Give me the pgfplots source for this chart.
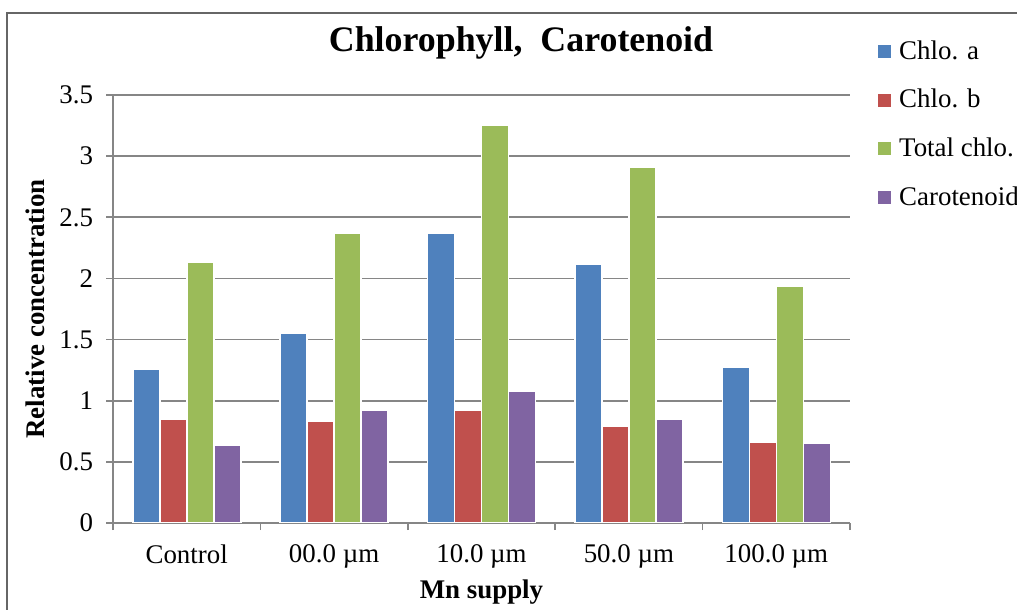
\documentclass[border=0pt]{standalone}
\usepackage{fontspec}
\setmainfont{Liberation Serif}
\usepackage{pgfplots}
\pgfplotsset{compat=1.18}
\definecolor{cA}{HTML}{4F81BD}
\definecolor{cB}{HTML}{C0504D}
\definecolor{cC}{HTML}{9BBB59}
\definecolor{cD}{HTML}{8064A2}
\definecolor{gridc}{RGB}{134,134,134}
\begin{document}
\begin{tikzpicture}
\useasboundingbox (0,0) rectangle (508.5bp,305bp);
\draw[gray!80!black, line width=0.8bp] (3.5bp,0) -- (3.5bp,298.5bp) -- (508.5bp,298.5bp);
\node[font=\bfseries\fontsize{18}{21}\selectfont] at (260.5bp,283.5bp) {Chlorophyll,\ \ Carotenoid};
\begin{axis}[
  at={(56.5bp,43.5bp)}, anchor=south west,
  width=368.5bp, height=214bp, scale only axis,
  xmin=-0.5, xmax=4.5, ymin=0, ymax=3.5,
  ybar=0pt, bar width=13.5bp,
  axis x line*=bottom, axis y line*=left,
  axis line style={draw=gridc, line width=0.8bp, -},
  ytick={0,0.5,...,3.5},
  ymajorgrids, grid style={draw=gridc, line width=0.8bp},
  xtick={-0.5,0.5,...,4.5},
  x tick label as interval,
  xticklabels={Control, 00.0 µm, 10.0 µm, 50.0 µm, 100.0 µm},
  tick align=outside, major tick length=3.5bp,
  tick style={draw=gridc, line width=0.8bp},
  tick label style={font=\fontsize{13.5}{16}\selectfont},
  /pgf/number format/assume math mode=true,
  xticklabel style={yshift=-4bp},
  yticklabel style={xshift=-3bp},
  xlabel={Mn supply},
  ylabel={Relative concentration},
  label style={font=\bfseries\fontsize{13.5}{16}\selectfont},
  x label style={at={(axis description cs:0.5,-0.161)}, anchor=center},
  y label style={at={(axis description cs:-0.106,0.5)}, anchor=center, rotate=0},
  legend style={at={(1.038,1.135)}, anchor=north west, draw=none, fill=none,
    font=\fontsize{13.5}{16}\selectfont, row sep=10.5bp, inner sep=0pt,
    nodes={inner sep=1.5bp}},
  legend cell align=left,
  legend image code/.code={\fill[#1, draw=none] (0bp,-3.25bp) rectangle (6.5bp,3.25bp); \path (8.5bp,0);},
]
\addplot[fill=cA, draw=white, line width=0.8bp] coordinates {(0,1.26) (1,1.55) (2,2.37) (3,2.12) (4,1.27)};
\addplot[fill=cB, draw=white, line width=0.8bp] coordinates {(0,0.85) (1,0.83) (2,0.92) (3,0.79) (4,0.66)};
\addplot[fill=cC, draw=white, line width=0.8bp] coordinates {(0,2.13) (1,2.37) (2,3.25) (3,2.91) (4,1.94)};
\addplot[fill=cD, draw=white, line width=0.8bp] coordinates {(0,0.64) (1,0.92) (2,1.08) (3,0.85) (4,0.65)};
\legend{Chlo. a, Chlo. b, Total chlo., Carotenoid}
\end{axis}
\end{tikzpicture}
\end{document}
